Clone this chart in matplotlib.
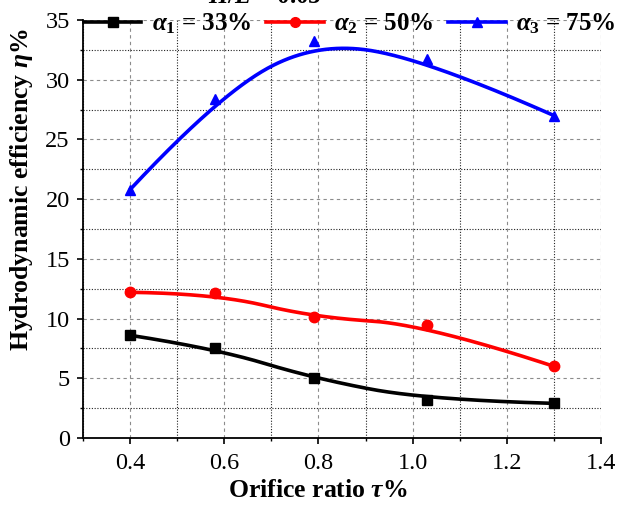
import numpy as np
import matplotlib
matplotlib.use("Agg")
import matplotlib.pyplot as plt
from matplotlib.ticker import MultipleLocator

plt.rcParams["font.family"] = ["Liberation Serif", "DejaVu Serif"]
plt.rcParams["mathtext.fontset"] = "custom"
plt.rcParams["mathtext.rm"] = "Liberation Serif:bold"
plt.rcParams["mathtext.it"] = "Liberation Serif:italic:bold"
plt.rcParams["mathtext.bf"] = "Liberation Serif:bold"

# Orifice ratio (tau, %) and hydrodynamic efficiency (eta, %) for each open-area ratio
orifice_ratio = [0.40, 0.58, 0.79, 1.03, 1.30]
eta_alpha1 = [8.6, 7.5, 5.0, 3.2, 2.9]
eta_alpha2 = [12.2, 12.1, 10.1, 9.5, 6.0]
eta_alpha3 = [20.8, 28.4, 33.2, 31.7, 27.0]

series_labels = [r"$\alpha_1$ = 33%", r"$\alpha_2$ = 50%", r"$\alpha_3$ = 75%"]
series_colors = ["black", "#ff0000", "#0000ff"]
series_markers = ["s", "o", "^"]
xtick_labels = ["0.4", "0.6", "0.8", "1.0", "1.2", "1.4"]


def bspline_curve(px, py, degree=2, n=300):
    """Clamped uniform B-spline using the measured points as control points."""
    pts = np.column_stack([px, py]).astype(float)
    m = len(pts)
    inner = np.linspace(0, 1, m - degree + 1)
    knots = np.concatenate([np.zeros(degree), inner, np.ones(degree)])
    t = np.linspace(0, 1, n)
    t[-1] -= 1e-10
    # Cox-de Boor recursion
    N = np.zeros((n, len(knots) - 1))
    for i in range(len(knots) - 1):
        N[:, i] = (t >= knots[i]) & (t < knots[i + 1])
    for k in range(1, degree + 1):
        Nk = np.zeros((n, len(knots) - 1 - k))
        for i in range(len(knots) - 1 - k):
            a = knots[i + k] - knots[i]
            b = knots[i + k + 1] - knots[i + 1]
            left = (t - knots[i]) / a * N[:, i] if a > 0 else 0
            right = (knots[i + k + 1] - t) / b * N[:, i + 1] if b > 0 else 0
            Nk[:, i] = left + right
        N = Nk
    curve = N @ pts
    return curve[:, 0], curve[:, 1]


fig = plt.figure(figsize=(6.32, 5.09), dpi=100)
ax = fig.add_axes([83 / 632, 1 - 438 / 509, 518 / 632, 418 / 509])

handles = []
for ys, lab, col, mk in zip([eta_alpha1, eta_alpha2, eta_alpha3],
                            series_labels, series_colors, series_markers):
    cx, cy = bspline_curve(orifice_ratio, ys)
    ax.plot(cx, cy, color=col, lw=2.6, zorder=3, solid_capstyle="round")
    ax.plot(orifice_ratio, ys, ls="none", marker=mk, color=col, ms=7.5, zorder=4)
    h, = ax.plot([], [], color=col, lw=2.6, marker=mk, ms=7)
    handles.append(h)

ax.set_xlim(0.3, 1.4)
ax.set_ylim(0, 35)
ax.xaxis.set_minor_locator(MultipleLocator(0.1))
ax.yaxis.set_major_locator(MultipleLocator(5))
ax.yaxis.set_minor_locator(MultipleLocator(2.5))
ax.set_xticks([0.4, 0.6, 0.8, 1.0, 1.2, 1.4])
ax.set_xticklabels(xtick_labels)

for s in ["top", "right"]:
    ax.spines[s].set_visible(False)
for s in ["left", "bottom"]:
    ax.spines[s].set_linewidth(1.3)

ax.tick_params(which="major", direction="out", length=4, width=1.2, labelsize=17.5)
ax.tick_params(which="minor", direction="out", length=2.5, width=1.0)
ax.tick_params(axis="x", which="major", pad=7)
ax.tick_params(axis="y", which="major", pad=5.5)

ax.grid(which="major", color="#8c8c8c", ls=(0, (3, 3)), lw=0.8)
ax.grid(which="minor", color="#222222", ls=(0, (1, 1.5)), lw=0.8)
ax.set_axisbelow(True)

ax.set_xlabel(r"Orifice ratio $\tau$%", fontsize=18.5, fontweight="bold")
ax.set_ylabel(r"Hydrodynamic efficiency $\eta$%", fontsize=18.5, fontweight="bold")
ax.xaxis.set_label_coords(0.453, -0.098)
ax.yaxis.set_label_coords(-0.093, 0.593)

fig.legend(handles, series_labels, ncol=3, frameon=False,
           loc="center left", bbox_to_anchor=(84 / 632, 1 - 24 / 509),
           prop={"family": "Liberation Serif", "weight": "bold", "size": 18},
           handlelength=2.3, handletextpad=0.4, columnspacing=0.6,
           borderaxespad=0, borderpad=0)

fig.text(265 / 632, 1 - 3 / 509, r"$H/L$ = 0.05", ha="center", va="baseline",
         fontsize=18, fontweight="bold")

fig.savefig("out.png", dpi=100)
